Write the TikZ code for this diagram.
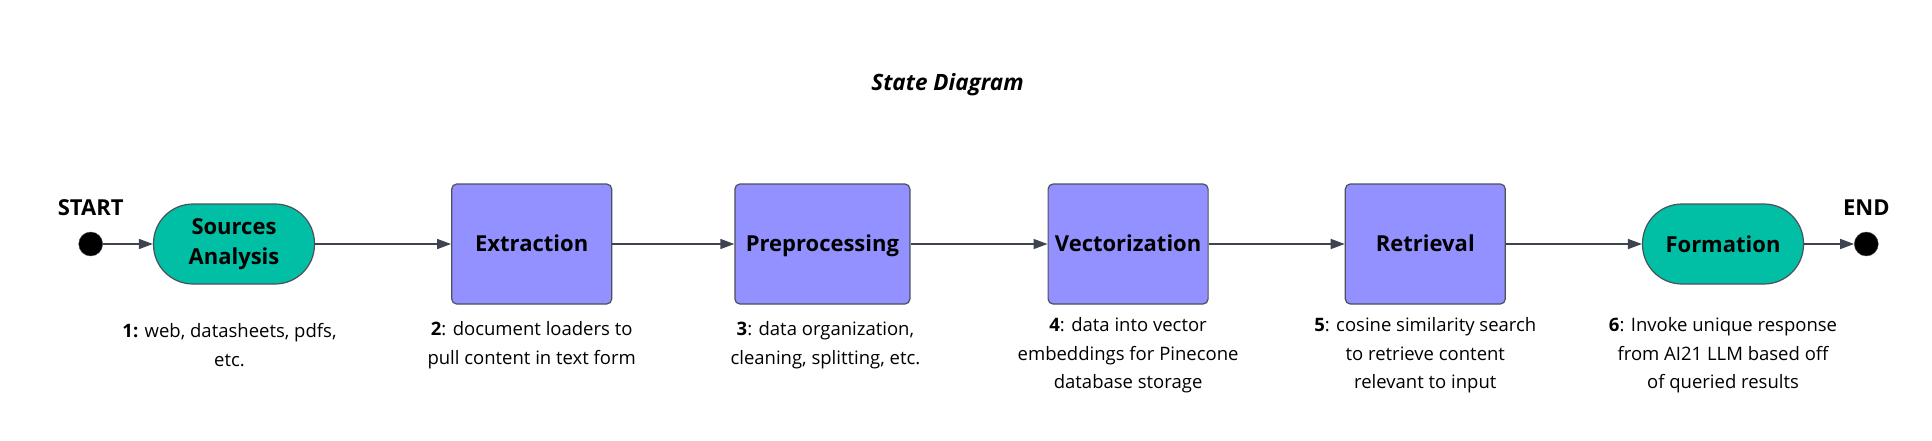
\documentclass[tikz,border=0pt]{standalone}
\usepackage{fontspec}
\setmainfont{Open Sans}
\usetikzlibrary{positioning, arrows.meta}
\definecolor{stategreen}{RGB}{0,191,165}
\definecolor{statepurple}{RGB}{147,145,255}
\definecolor{edgegray}{RGB}{75,80,92}
\definecolor{arrowgray}{RGB}{62,67,80}
\tikzstyle{pill} = [rectangle, rounded corners=39.5pt, minimum width=161pt, minimum height=80pt, text centered, align=center, draw=edgegray, line width=1.2pt, fill=stategreen, font=\fontsize{22}{30}\selectfont\bfseries]
\tikzstyle{process} = [rectangle, rounded corners=5pt, minimum width=160pt, minimum height=120pt, text centered, text height=15.7pt, text depth=0pt, draw=edgegray, line width=1.2pt, fill=statepurple, font=\fontsize{22}{30}\selectfont\bfseries]
\tikzstyle{statedot} = [circle, fill=black, draw=edgegray, minimum size=24pt, inner sep=0pt]
\tikzstyle{desc} = [align=center, inner sep=0pt, font=\fontsize{18.5}{28.3}\selectfont]
\tikzstyle{endlabel} = [inner sep=0pt, font=\fontsize{22}{25}\selectfont\bfseries]
\tikzstyle{arrow} = [line width=1.5pt, draw=arrowgray, -{Triangle[length=14pt,width=10pt]}]

\begin{document}
\begin{tikzpicture}[x=1pt, y=-1pt]

  \fill [white] (0,0) rectangle (1932,440);
  \useasboundingbox (0,0) rectangle (1932,440);

  \node (title) at (947.5,85) [font=\fontsize{22.5}{25}\selectfont\bfseries\itshape] {State Diagram};

  \node (sdot) [statedot] at (90.7,244) {};
  \node (src) [pill, right=50pt of sdot] {Sources\\Analysis};
  \node (ext) [process, right=136pt of src] {Extraction};
  \node (pre) [process, minimum width=175pt, right=122pt of ext] {Preprocessing};
  \node (vec) [process, right=137pt of pre] {Vectorization};
  \node (ret) [process, right=136pt of vec] {Retrieval};
  \node (form) [pill, right=136pt of ret] {Formation};
  \node (edot) [statedot, right=50pt of form] {};

  \node (start) [endlabel, above=16pt of sdot] {START};
  \node (end) [endlabel, above=16pt of edot] {END};

  \node (d1) [desc, below=39pt of src, xshift=-4.5pt] {\textbf{1:} web, datasheets, pdfs,\\etc.};
  \node (d2) [desc, below=17pt of ext] {\textbf{2}: document loaders to\\pull content in text form};
  \node (d3) [desc, below=17pt of pre, xshift=3pt] {\textbf{3}: data organization,\\cleaning, splitting, etc.};
  \node (d4) [desc, below=13pt of vec] {\textbf{4}: data into vector\\embeddings for Pinecone\\database storage};
  \node (d5) [desc, below=13pt of ret] {\textbf{5}: cosine similarity search\\to retrieve content\\relevant to input};
  \node (d6) [desc, below=33pt of form] {\textbf{6}: Invoke unique response\\from AI21 LLM based off\\of queried results};

  \draw [arrow] (sdot) -- (src);
  \draw [arrow] (src) -- (ext);
  \draw [arrow] (ext) -- (pre);
  \draw [arrow] (pre) -- (vec);
  \draw [arrow] (vec) -- (ret);
  \draw [arrow] (ret) -- (form);
  \draw [arrow] (form) -- (edot);

\end{tikzpicture}
\end{document}
